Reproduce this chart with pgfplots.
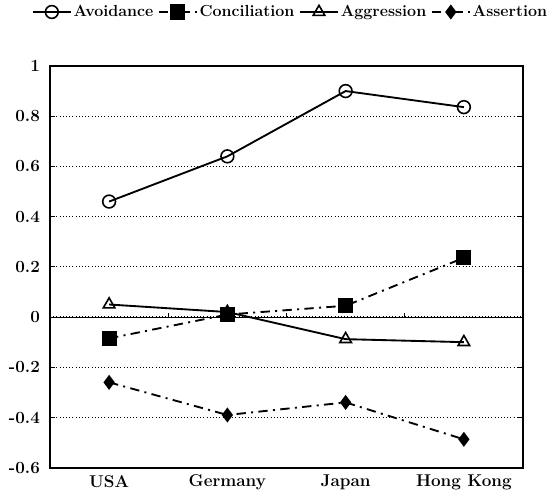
\documentclass[border=0pt]{standalone}
\usepackage{pgfplots}
\pgfplotsset{compat=1.18}
\begin{document}
\begin{tikzpicture}
\begin{axis}[
  scale only axis,
  width=355pt, height=301.5pt,
  xmin=0, xmax=4, ymin=-0.6, ymax=1,
  axis line style={line width=1.6pt},
  xtick={0.5,1.5,2.5,3.5},
  xticklabels={\textbf{USA},\textbf{Germany},\textbf{Japan},\textbf{Hong Kong}},
  xtick style={draw=none},
  xticklabel style={font=\fontsize{12.8}{14}\selectfont, yshift=-2pt},
  ytick={-0.6,-0.4,-0.2,0,0.2,0.4,0.6,0.8,1},
  yticklabels={\textbf{-0.6},\textbf{-0.4},\textbf{-0.2},\textbf{0},\textbf{0.2},\textbf{0.4},\textbf{0.6},\textbf{0.8},\textbf{1}},
  yticklabel style={font=\fontsize{12.8}{14}\selectfont, xshift=-4pt},
  ytick style={black, line width=0.8pt},
  major tick length=4pt,
  ymajorgrids,
  major grid style={dotted, black, line width=0.9pt},
  legend columns=4,
  legend style={draw=none, fill=none, font=\fontsize{12}{14}\selectfont\bfseries, at={(0.5,1)}, anchor=center, xshift=3pt, yshift=40.5pt, column sep=0pt, inner sep=0pt, nodes={inner sep=1.5pt}, /tikz/every even column/.append style={column sep=2pt}},
  legend image code/.code={\draw[mark repeat=2, mark phase=2] plot coordinates {(0cm,0cm) (0.5cm,0cm) (1.0cm,0cm)};},
  clip=false,
]
\coordinate (sw) at (rel axis cs:0,0);
\coordinate (ne) at (rel axis cs:1,1);
\draw[black, line width=0.8pt] (axis cs:0,0) -- (axis cs:4,0);
\draw[black, line width=0.8pt] (axis cs:1,0) -- (axis cs:1,0.018);
\draw[black, line width=0.8pt] (axis cs:2,0) -- (axis cs:2,0.018);
\draw[black, line width=0.8pt] (axis cs:3,0) -- (axis cs:3,0.018);
\addplot[black, line width=1.4pt, mark=o, mark size=4.8pt, mark options={solid, fill=white, line width=1.2pt}]
  coordinates {(0.5,0.46) (1.5,0.64) (2.5,0.90) (3.5,0.836)};
\addlegendentry{Avoidance}
\addplot[black, line width=1.4pt, dash pattern=on 7pt off 4pt on 1.5pt off 4pt, mark=square*, mark size=5pt, mark options={solid}]
  coordinates {(0.5,-0.085) (1.5,0.01) (2.5,0.045) (3.5,0.236)};
\addlegendentry{Conciliation}
\addplot[black, line width=1.4pt, mark=triangle, mark size=5pt, mark options={solid, fill=white, line width=1.2pt}]
  coordinates {(0.5,0.05) (1.5,0.02) (2.5,-0.088) (3.5,-0.10)};
\addlegendentry{Aggression}
\addplot[black, line width=1.4pt, dash pattern=on 7pt off 4pt on 1.5pt off 4pt, mark=diamond*, mark size=4.5pt, mark options={solid}]
  coordinates {(0.5,-0.26) (1.5,-0.39) (2.5,-0.34) (3.5,-0.487)};
\addlegendentry{Assertion}
\end{axis}
\pgfresetboundingbox
\path ([shift={(-37.5pt,-24pt)}]sw) rectangle ([shift={(20.25pt,49.5pt)}]ne);
\end{tikzpicture}
\end{document}
